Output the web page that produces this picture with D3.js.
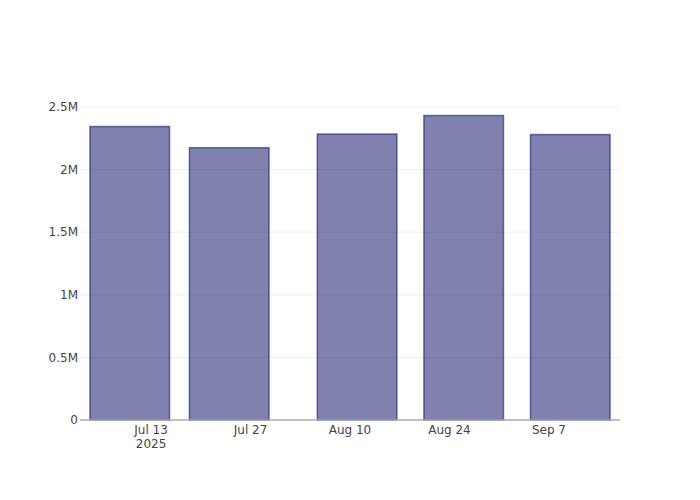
<!DOCTYPE html>
<html><head><meta charset="utf-8">
<script src="https://cdn.jsdelivr.net/npm/d3@7"></script>
<style>body{margin:0;background:#fff}svg{display:block}text{font-family:"DejaVu Sans",sans-serif}</style>
</head><body><svg id="c" width="700" height="500"></svg>
<script>
const dates = ["2025-07-10","2025-07-24","2025-08-11","2025-08-26","2025-09-10"];
const values = [2344000, 2175000, 2284000, 2432000, 2280000];
const xTicks = ["2025-07-13","2025-07-27","2025-08-10","2025-08-24","2025-09-07"];
const yTicks = [0, 500000, 1000000, 1500000, 2000000, 2500000];
const yTickLabels = ["0","0.5M","1M","1.5M","2M","2.5M"];

const parse = d3.utcParse("%Y-%m-%d");
const W=700,H=500, m={l:80,r:80,t:100,b:80};
const svg=d3.select("#c");
const DAY=864e5;
const dts=dates.map(parse);
const x=d3.scaleUtc().domain([parse("2025-07-03"), parse("2025-09-17")]).range([m.l, W-m.r]);
const y=d3.scaleLinear().domain([0, 2556000]).range([H-m.b, m.t]);

// gridlines
svg.append("g").selectAll("line").data(yTicks.slice(1)).join("line")
  .attr("x1",m.l).attr("x2",W-m.r).attr("y1",d=>y(d)).attr("y2",d=>y(d))
  .attr("stroke","#eeeeee").attr("stroke-width",1);

// bars
let minGap=Infinity;
for(let i=1;i<dts.length;i++) minGap=Math.min(minGap,dts[i]-dts[i-1]);
const bw = 0.8*minGap;
svg.append("g").selectAll("rect").data(dts.map((d,i)=>({d,v:values[i]}))).join("rect")
  .attr("x",d=>x(new Date(+d.d-bw/2)))
  .attr("width",d=>x(new Date(+d.d+bw/2))-x(new Date(+d.d-bw/2)))
  .attr("y",d=>y(d.v)).attr("height",d=>y(0)-y(d.v))
  .attr("fill","rgb(25,25,112)").attr("fill-opacity",0.55)
  .attr("stroke","rgb(25,25,112)").attr("stroke-opacity",0.6).attr("stroke-width",1.5);

// x axis line
svg.append("line").attr("x1",m.l).attr("x2",W-m.r).attr("y1",y(0)).attr("y2",y(0))
  .attr("stroke","#aaaaaa").attr("stroke-width",1.5);

// y labels
svg.append("g").selectAll("text").data(yTicks).join("text")
  .attr("x",m.l-2).attr("y",d=>y(d)).attr("dy","0.35em").attr("text-anchor","end")
  .attr("font-size",12).attr("fill","#444").text((d,i)=>yTickLabels[i]);

// x labels
const fmt=d3.utcFormat("%b %-d");
const xt=svg.append("g").selectAll("text").data(xTicks.map(parse)).join("text")
  .attr("x",d=>x(d)).attr("y",y(0)+14).attr("text-anchor","middle")
  .attr("font-size",12).attr("fill","#444");
xt.append("tspan").attr("x",d=>x(d)).text(d=>fmt(d));
xt.filter((d,i)=>i===0).append("tspan").attr("x",d=>x(d)).attr("dy","1.2em").text(d=>d3.utcFormat("%Y")(d));
</script></body></html>
